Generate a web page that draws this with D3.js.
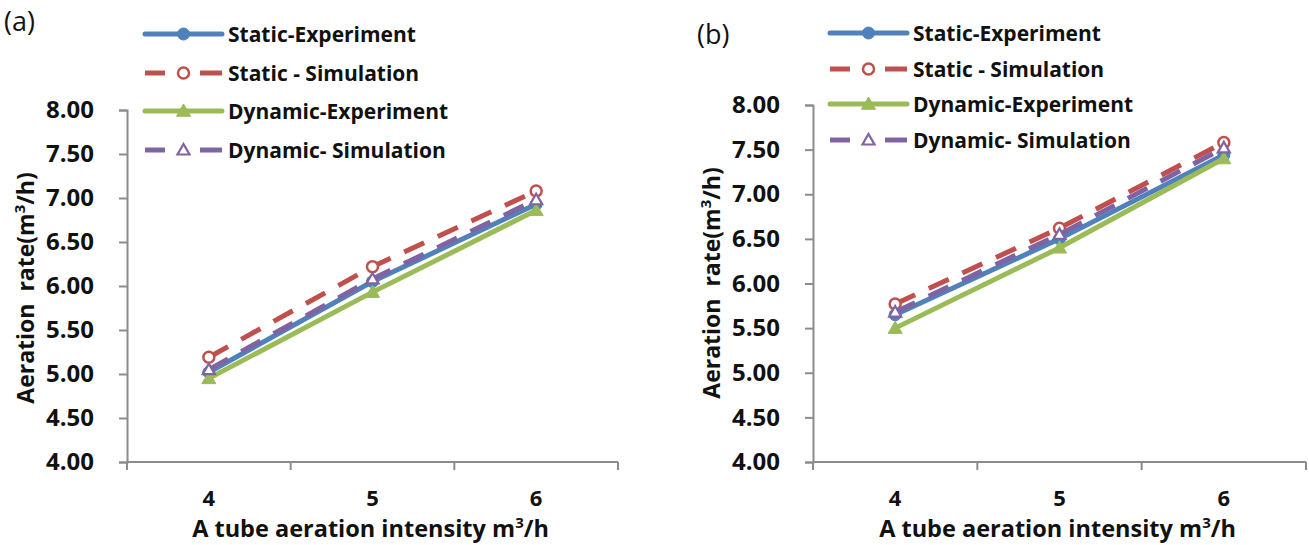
<!DOCTYPE html>
<html>
<head>
<meta charset="utf-8">
<script src="https://cdn.jsdelivr.net/npm/d3@7"></script>
<style>
  html, body { margin: 0; padding: 0; background: #fff; }
  svg { display: block; font-family: "Open Sans", "Noto Sans", sans-serif; }
</style>
</head>
<body>
<svg id="chart" width="1309" height="545"></svg>
<script>
// Aeration intensity per tube (m3/h)
const categories = [4, 5, 6];
const yTicks = [4.0, 4.5, 5.0, 5.5, 6.0, 6.5, 7.0, 7.5, 8.0];
const seriesNames = ["Static-Experiment", "Static - Simulation", "Dynamic-Experiment", "Dynamic- Simulation"];

// Panel (a)
const staticExpA  = [5.02, 6.05, 6.93];
const staticSimA  = [5.19, 6.22, 7.08];
const dynamicExpA = [4.95, 5.93, 6.86];
const dynamicSimA = [5.05, 6.08, 6.98];

// Panel (b)
const staticExpB  = [5.65, 6.50, 7.44];
const staticSimB  = [5.77, 6.62, 7.58];
const dynamicExpB = [5.50, 6.40, 7.40];
const dynamicSimB = [5.68, 6.55, 7.52];

const styles = [
  { color: "#4F81BD", dash: null,    marker: "circle",   filled: true  },
  { color: "#C0504D", dash: "22,15", marker: "circle",   filled: false },
  { color: "#9BBB59", dash: null,    marker: "triangle", filled: true  },
  { color: "#8064A2", dash: "22,15", marker: "triangle", filled: false }
];

const svg = d3.select("#chart");
const axisColor = "#8c8c8c";
const textColor = "#111";

function drawMarker(g, kind, filled, color, x, y) {
  if (kind === "circle") {
    g.append("circle").attr("cx", x).attr("cy", y).attr("r", filled ? 6 : 5.5)
      .attr("fill", filled ? color : "#fff")
      .attr("stroke", color).attr("stroke-width", filled ? 1 : 2.5);
  } else {
    const s = filled ? 7 : 6;
    const path = `M${x},${y - s}L${x + s},${y + s * 0.75}L${x - s},${y + s * 0.75}Z`;
    g.append("path").attr("d", path)
      .attr("fill", filled ? color : "#fff")
      .attr("stroke", color).attr("stroke-width", filled ? 1 : 2.2)
      .attr("stroke-linejoin", "miter");
  }
}

function drawPanel(cfg) {
  const g = svg.append("g");

  const x = d3.scaleBand().domain(categories).range([cfg.left, cfg.right]);
  const y = d3.scaleLinear().domain([4, 8]).range([cfg.bottom, cfg.top]);

  // y axis
  const yAxis = d3.axisLeft(y).tickValues(yTicks).tickFormat(d3.format(".2f"))
    .tickSize(8).tickPadding(25);
  const ya = g.append("g").attr("transform", `translate(${cfg.left},0)`).call(yAxis);
  ya.select(".domain").attr("stroke", axisColor).attr("stroke-width", 2);
  ya.selectAll(".tick line").attr("stroke", axisColor).attr("stroke-width", 2);
  ya.selectAll(".tick text").attr("fill", textColor).attr("font-size", 24)
    .attr("font-weight", 700).attr("font-family", "'Open Sans', sans-serif");

  // x axis: line with ticks on category boundaries, labels at category centres
  g.append("line").attr("x1", cfg.left).attr("x2", cfg.right)
    .attr("y1", cfg.bottom).attr("y2", cfg.bottom)
    .attr("stroke", axisColor).attr("stroke-width", 2);
  const bounds = categories.map(c => x(c)).concat([x(categories[categories.length - 1]) + x.bandwidth()]);
  g.selectAll(".xb").data(bounds).enter().append("line")
    .attr("x1", d => d).attr("x2", d => d)
    .attr("y1", cfg.bottom).attr("y2", cfg.bottom + 8)
    .attr("stroke", axisColor).attr("stroke-width", 2);
  g.selectAll(".xl").data(categories).enter().append("text")
    .attr("x", d => x(d) + x.bandwidth() / 2).attr("y", cfg.bottom + 44)
    .attr("text-anchor", "middle").attr("font-size", 22).attr("font-weight", 700)
    .attr("fill", textColor).text(d => d);

  // axis titles
  const xt = g.append("text").attr("x", (cfg.left + cfg.right) / 2 - 2).attr("y", cfg.bottom + 75)
    .attr("text-anchor", "middle").attr("font-size", 23.5).attr("font-weight", 700)
    .attr("fill", textColor);
  xt.append("tspan").text("A tube aeration intensity m");
  xt.append("tspan").attr("font-size", 15).attr("dy", -9).text("3");
  xt.append("tspan").attr("dy", 9).text("/h");

  const yt = g.append("text")
    .attr("transform", `translate(${cfg.yTitleX},${cfg.yTitleY}) rotate(-90)`)
    .attr("text-anchor", "middle").attr("font-size", 23).attr("font-weight", 700)
    .attr("fill", textColor).attr("xml:space", "preserve");
  yt.append("tspan").text("Aeration  rate(m");
  yt.append("tspan").attr("font-size", 15).attr("dy", -9).text("3");
  yt.append("tspan").attr("dy", 9).text("/h)");

  // panel label
  g.append("text").attr("x", cfg.labelX).attr("y", cfg.labelY)
    .attr("font-size", 27).attr("fill", textColor).text(cfg.label);

  // series
  const line = d3.line().x((d, i) => x(categories[i]) + x.bandwidth() / 2).y(d => y(d));
  cfg.series.forEach((vals, si) => {
    const st = styles[si];
    const sg = g.append("g");
    sg.append("path").datum(vals).attr("d", line)
      .attr("fill", "none").attr("stroke", st.color).attr("stroke-width", 5)
      .attr("stroke-dasharray", st.dash).attr("stroke-linecap", st.dash ? "butt" : "round");
    vals.forEach((v, i) => drawMarker(sg, st.marker, st.filled, st.color,
      x(categories[i]) + x.bandwidth() / 2, y(v)));
  });

  // legend
  seriesNames.forEach((name, si) => {
    const st = styles[si];
    const lg = g.append("g");
    const ly = cfg.legendRows[si];
    const x0 = cfg.legendX, x1 = cfg.legendX + 77, xm = (x0 + x1) / 2;
    if (st.dash) {
      lg.append("line").attr("x1", x0).attr("x2", x0 + 20).attr("y1", ly).attr("y2", ly)
        .attr("stroke", st.color).attr("stroke-width", 5);
      lg.append("line").attr("x1", x1 - 22).attr("x2", x1).attr("y1", ly).attr("y2", ly)
        .attr("stroke", st.color).attr("stroke-width", 5);
    } else {
      lg.append("line").attr("x1", x0).attr("x2", x1).attr("y1", ly).attr("y2", ly)
        .attr("stroke", st.color).attr("stroke-width", 5).attr("stroke-linecap", "round");
    }
    drawMarker(lg, st.marker, st.filled, st.color, xm, ly);
    lg.append("text").attr("x", x1 + 6).attr("y", ly + 7.5)
      .attr("font-size", 21).attr("font-weight", 700).attr("fill", textColor)
      .text(name);
  });
}

drawPanel({
  label: "(a)", labelX: 4, labelY: 31,
  left: 127, right: 618, top: 110, bottom: 462,
  yTitleX: 34, yTitleY: 288,
  legendX: 145, legendRows: [34, 73, 111, 150],
  series: [staticExpA, staticSimA, dynamicExpA, dynamicSimA]
});

drawPanel({
  label: "(b)", labelX: 697, labelY: 44,
  left: 813, right: 1306, top: 105, bottom: 462,
  yTitleX: 720, yTitleY: 283,
  legendX: 830, legendRows: [33, 69, 104, 140],
  series: [staticExpB, staticSimB, dynamicExpB, dynamicSimB]
});
</script>
</body>
</html>
